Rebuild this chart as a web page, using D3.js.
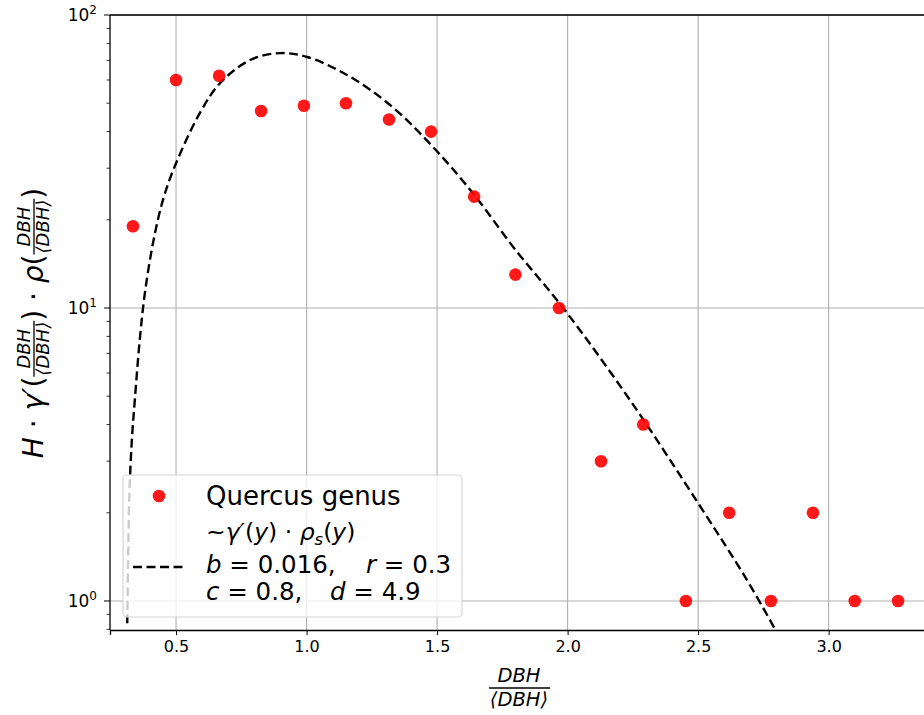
<!DOCTYPE html>
<meta charset="utf-8">
<style>
    body { margin: 0; background: #fff; }
    svg text { font-family: "DejaVu Sans", sans-serif; fill: #000; }
    .grid line { stroke: #b0b0b0; stroke-width: 1.1; }
    .axis path, .axis line { stroke: #000; }
</style>
<body>
<script src="https://d3js.org/d3.v7.min.js"></script>
<script>

// observed (binned) values
var binX = [0.335, 0.500, 0.665, 0.826, 0.990, 1.151, 1.316, 1.477, 1.642, 1.800,
            1.967, 2.128, 2.290, 2.453, 2.619, 2.779, 2.940, 3.100, 3.266];
var binY = [19, 60, 62, 47, 49, 50, 44, 40, 24, 13,
            10, 3, 4, 1, 2, 1, 2, 1, 1];

// fitted curve
var curveX = [0.313, 0.317, 0.321, 0.330, 0.343, 0.362, 0.381, 0.412, 0.450, 0.496,
              0.592, 0.669, 0.784, 0.898, 1.002, 1.155, 1.320, 1.485, 1.638, 1.800,
              1.983, 2.239, 2.504, 2.687, 2.795];
var curveY = [0.84, 1.49, 2.26, 3.46, 4.97, 7.96, 11.3, 16.7, 23.4, 30.6,
              46.4, 58.6, 70.2, 74.1, 71.9, 62.4, 49.3, 35.4, 24.6, 15.8,
              10, 4.85, 2.13, 1.18, 0.80];

var xTicks = [0.5, 1.0, 1.5, 2.0, 2.5, 3.0];
var yTicks = [1, 10, 100];
var yTickExp = ["0", "1", "2"];

var W = 924, H = 715;
var margin = { top: 15, left: 110 };
var plotRight = 926, plotBottom = 630;

var svg = d3.select("body").append("svg")
    .attr("width", W).attr("height", H);

var x = d3.scaleLinear().domain([0.247, 3.373]).range([margin.left, plotRight]);
var y = d3.scaleLog().domain([0.796, 100]).range([plotBottom, margin.top]);

svg.append("clipPath").attr("id", "clip")
    .append("rect")
    .attr("x", margin.left).attr("y", margin.top)
    .attr("width", plotRight - margin.left).attr("height", plotBottom - margin.top);

// grid
var grid = svg.append("g").attr("class", "grid");
grid.selectAll(".gx").data(xTicks).enter().append("line")
    .attr("x1", d => x(d)).attr("x2", d => x(d))
    .attr("y1", margin.top).attr("y2", plotBottom);
grid.selectAll(".gy").data(yTicks).enter().append("line")
    .attr("x1", margin.left).attr("x2", plotRight)
    .attr("y1", d => y(d)).attr("y2", d => y(d));

// curve
var line = d3.line()
    .x((d, i) => x(curveX[i]))
    .y(d => y(d))
    .curve(d3.curveCatmullRom.alpha(0.5));

svg.append("path")
    .datum(curveY)
    .attr("clip-path", "url(#clip)")
    .attr("d", line)
    .attr("fill", "none")
    .attr("stroke", "#000")
    .attr("stroke-width", 2.4)
    .attr("stroke-dasharray", "9,4.5");

// points
svg.append("g").selectAll("circle")
    .data(binY).enter().append("circle")
    .attr("cx", (d, i) => x(binX[i]))
    .attr("cy", d => y(d))
    .attr("r", 6.3)
    .attr("fill", "red")
    .attr("fill-opacity", 0.9);

// axes
var xAxis = svg.append("g").attr("class", "axis")
    .attr("transform", "translate(0," + plotBottom + ")")
    .call(d3.axisBottom(x).tickValues(xTicks).tickFormat(d3.format(".1f"))
        .tickSize(5).tickPadding(6));
xAxis.select(".domain").attr("stroke-width", 1.3);
xAxis.selectAll("text").style("font-size", "16px").attr("font-family", "DejaVu Sans");

var minorY = [];
[0.1, 1, 10].forEach(function (dec) {
    for (var k = 2; k <= 9; k++) {
        var v = dec * k;
        if (v >= 0.796 && v <= 100) minorY.push(v);
    }
});
var yAxis = svg.append("g").attr("class", "axis")
    .attr("transform", "translate(" + margin.left + ",0)");
yAxis.append("line").attr("y1", margin.top).attr("y2", plotBottom)
    .attr("stroke", "#000").attr("stroke-width", 1.3);
yAxis.selectAll(".maj").data(yTicks).enter().append("line")
    .attr("x1", -6).attr("x2", 0)
    .attr("y1", d => y(d)).attr("y2", d => y(d))
    .attr("stroke", "#000").attr("stroke-width", 1);
yAxis.selectAll(".mnr").data(minorY).enter().append("line")
    .attr("x1", -3.5).attr("x2", 0)
    .attr("y1", d => y(d)).attr("y2", d => y(d))
    .attr("stroke", "#000").attr("stroke-width", 0.8);
var yl = yAxis.selectAll(".lab").data(yTicks).enter().append("text")
    .attr("x", -13).attr("y", d => y(d) + 6)
    .attr("text-anchor", "end")
    .style("font-size", "17px");
yl.append("tspan").text("10");
yl.append("tspan").attr("dy", -7).style("font-size", "12px")
    .text((d, i) => yTickExp[i]);

// top spine
svg.append("line")
    .attr("x1", margin.left).attr("x2", plotRight)
    .attr("y1", margin.top).attr("y2", margin.top)
    .attr("stroke", "#000").attr("stroke-width", 1.3);

// x label (fraction)
var xl = svg.append("g");
xl.append("text").attr("x", 519).attr("y", 682).attr("text-anchor", "middle")
    .style("font-size", "19.5px").style("font-style", "italic").text("DBH");
xl.append("line").attr("x1", 489).attr("x2", 550).attr("y1", 688).attr("y2", 688)
    .attr("stroke", "#000").attr("stroke-width", 1.3);
xl.append("text").attr("x", 519).attr("y", 706).attr("text-anchor", "middle")
    .style("font-size", "19.5px").style("font-style", "italic").text("\u27E8DBH\u27E9");

// y label: H·γ'(frac)·ρ(frac), laid out piece by piece and rotated
var ylab = svg.append("g").attr("transform", "translate(33,323) rotate(-90)");
var pieces = [
    { t: "H", it: true }, { t: " \u00B7 " }, { t: "\u03B3\u2032", it: true }, { t: "(" },
    { frac: true }, { t: ")" }, { t: " \u00B7 " }, { t: "\u03C1", it: true }, { t: "(" },
    { frac: true }, { t: ")" }
];
var cur = 0, fs = 28, ffs = 18;
pieces.forEach(function (p) {
    if (p.frac) {
        var n = ylab.append("text").attr("y", -3).style("font-size", ffs + "px")
            .style("font-style", "italic").text("DBH");
        var dd = ylab.append("text").attr("y", 16).style("font-size", ffs + "px")
            .style("font-style", "italic").text("\u27E8DBH\u27E9");
        var w = Math.max(n.node().getComputedTextLength(), dd.node().getComputedTextLength()) + 2;
        n.attr("x", cur + w / 2).attr("text-anchor", "middle");
        dd.attr("x", cur + w / 2).attr("text-anchor", "middle");
        ylab.append("line").attr("x1", cur).attr("x2", cur + w).attr("y1", 1).attr("y2", 1)
            .attr("stroke", "#000").attr("stroke-width", 1.3);
        cur += w;
    } else {
        var t = ylab.append("text").attr("x", cur).attr("y", 10).style("font-size", fs + "px")
            .style("white-space", "pre")
            .style("font-style", p.it ? "italic" : "normal").text(p.t);
        cur += t.node().getComputedTextLength();
    }
});
ylab.selectAll("*").each(function () {
    var s = d3.select(this);
    if (this.tagName === "text") s.attr("x", +s.attr("x") - cur / 2);
    else s.attr("x1", +s.attr("x1") - cur / 2).attr("x2", +s.attr("x2") - cur / 2);
});

// legend
var lg = svg.append("g");
lg.append("rect").attr("x", 123).attr("y", 475).attr("width", 339).attr("height", 142)
    .attr("rx", 4).attr("fill", "#fff").attr("fill-opacity", 0.8)
    .attr("stroke", "#d6d6d6").attr("stroke-width", 1.2);
lg.append("circle").attr("cx", 159).attr("cy", 496).attr("r", 6.3)
    .attr("fill", "red").attr("fill-opacity", 0.9);
lg.append("text").attr("x", 206).attr("y", 505).style("font-size", "26px").text("Quercus genus");
lg.append("line").attr("x1", 133).attr("x2", 186).attr("y1", 567).attr("y2", 567)
    .attr("stroke", "#000").attr("stroke-width", 2.4).attr("stroke-dasharray", "9,4.5");

var l2 = lg.append("text").attr("x", 206).attr("y", 540).style("font-size", "23.5px");
l2.append("tspan").text("~");
l2.append("tspan").style("font-style", "italic").text("\u03B3\u2032");
l2.append("tspan").text("(");
l2.append("tspan").style("font-style", "italic").text("y");
l2.append("tspan").text(") \u00B7 ");
l2.append("tspan").style("font-style", "italic").text("\u03C1");
l2.append("tspan").style("font-style", "italic").style("font-size", "16.5px").attr("dy", 5).text("s");
l2.append("tspan").attr("dy", -5).text("(");
l2.append("tspan").style("font-style", "italic").text("y");
l2.append("tspan").text(")");

var l3 = lg.append("text").attr("y", 573).style("font-size", "24.5px");
l3.append("tspan").attr("x", 206).style("font-style", "italic").text("b");
l3.append("tspan").text(" = 0.016,");
l3.append("tspan").attr("x", 366).style("font-style", "italic").text("r");
l3.append("tspan").text(" = 0.3");

var l4 = lg.append("text").attr("y", 600).style("font-size", "24.5px");
l4.append("tspan").attr("x", 206).style("font-style", "italic").text("c");
l4.append("tspan").text(" = 0.8,");
l4.append("tspan").attr("x", 330).style("font-style", "italic").text("d");
l4.append("tspan").text(" = 4.9");

</script>
</body>
